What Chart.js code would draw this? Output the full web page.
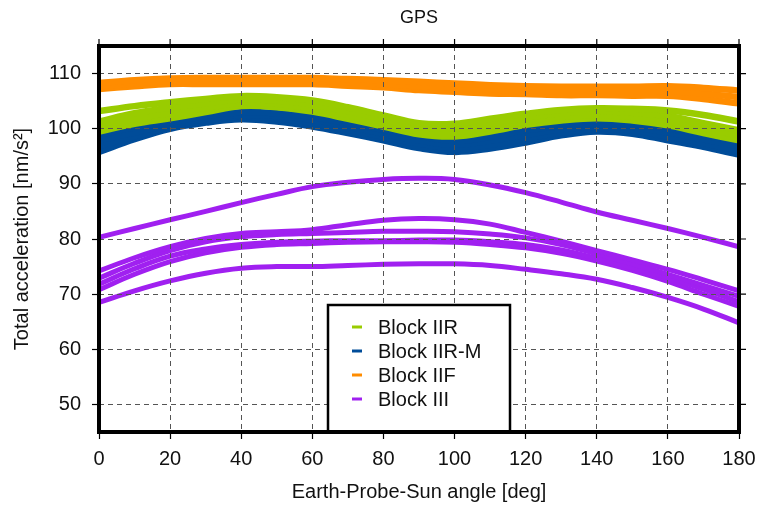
<!DOCTYPE html>
<html>
<head>
<meta charset="utf-8">
<script src="https://cdn.jsdelivr.net/npm/chart.js@4"></script>
<style>
html,body{margin:0;padding:0;background:#fff}
#wrap{position:relative;width:759px;height:506px}
</style>
</head>
<body>
<div id="wrap"><canvas id="c" width="759" height="506"></canvas></div>
<script>
// Earth-Probe-Sun angle samples [deg]
const angles = [0,10,20,30,40,50,60,70,80,90,100,110,120,130,140,150,160,170,180];
const xTicks = [0,20,40,60,80,100,120,140,160,180];
const yTicks = [50,60,70,80,90,100,110];

const blockNames  = ['Block IIR','Block IIR-M','Block IIF','Block III'];
const blockColors = ['#99cc00','#004c99','#ff8c00','#a020f0'];

// total acceleration per satellite [nm/s^2]
const blockIIR = [
  [103.2,104.1,104.8,105.4,105.9,105.7,105.1,103.9,102.4,101.0,100.9,101.8,102.7,103.4,103.7,103.6,103.3,102.5,101.3],
  [101.3,102.8,103.8,104.6,105.3,105.1,104.4,103.2,101.7,100.3,100.1,101.0,102.0,102.8,103.1,102.9,102.3,101.0,99.7],
  [100.3,101.8,102.85,103.8,104.7,104.5,103.7,102.5,101.0,99.6,99.4,100.2,101.3,102.1,102.5,102.2,101.4,100.1,98.8],
  [99.5,100.9,101.9,103.0,104.1,103.9,103.1,101.8,100.4,99.0,98.6,99.5,100.7,101.5,101.9,101.5,100.6,99.2,97.9]
];
const blockIIRM = [
  [99.0,100.2,101.1,102.3,103.0,102.8,102.1,101.0,99.8,98.7,97.8,98.5,99.7,100.5,100.9,100.7,100.0,98.8,97.5],
  [97.9,99.3,100.7,101.8,102.5,102.3,101.6,100.4,99.1,97.9,97.1,97.8,98.9,99.9,100.4,100.2,99.3,98.1,96.8],
  [96.9,98.6,100.4,101.5,102.2,101.9,101.0,99.8,98.6,97.3,96.5,97.1,98.2,99.3,100.0,99.7,98.6,97.4,96.0],
  [95.8,98.1,100.0,101.1,101.7,101.3,100.4,99.2,97.9,96.5,95.8,96.4,97.5,98.8,99.5,99.1,97.9,96.7,95.3]
];
const blockIIF = [
  [108.3,108.8,109.1,109.2,109.2,109.2,109.2,109.0,108.8,108.5,108.2,107.9,107.7,107.6,107.6,107.6,107.7,107.4,106.9],
  [107.7,108.2,108.6,108.6,108.6,108.6,108.6,108.4,108.1,107.7,107.4,107.1,107.0,106.8,106.8,106.8,106.8,106.4,105.7],
  [107.2,107.7,108.1,108.1,108.1,108.1,108.1,107.8,107.5,107.0,106.7,106.4,106.3,106.1,106.1,106.0,106.0,105.4,104.6]
];
const blockIII = [
  [80.3,81.9,83.5,85.0,86.6,88.1,89.5,90.3,90.8,91.0,90.8,89.8,88.4,86.7,84.9,83.4,81.9,80.3,78.6],
  [74.2,76.6,78.6,80.1,81.0,81.3,81.7,82.6,83.4,83.7,83.5,82.7,81.2,79.6,77.9,76.2,74.5,72.6,70.6],
  [72.9,75.6,77.9,79.5,80.4,80.8,81.0,81.2,81.4,81.4,81.3,80.9,80.2,79.0,77.3,75.5,73.6,71.6,69.6],
  [71.8,74.6,76.9,78.2,79.0,79.4,79.6,79.7,79.7,79.8,79.8,79.5,79.0,78.0,76.5,74.8,73.0,70.9,68.6],
  [70.8,73.6,75.9,77.5,78.5,79.0,79.2,79.4,79.5,79.5,79.4,79.0,78.4,77.4,76.0,74.3,72.3,70.0,67.8],
  [68.5,70.6,72.4,73.8,74.7,75.0,75.0,75.2,75.4,75.5,75.5,75.2,74.5,73.7,72.7,71.2,69.4,67.3,64.8]
];

const FONT = '"Liberation Sans", Arial, Helvetica, sans-serif';

const blocks = [blockIIR, blockIIRM, blockIIF, blockIII];
const datasets = [];
blocks.forEach((sats, b) => {
  sats.forEach(vals => {
    datasets.push({
      label: blockNames[b],
      data: vals.map((v, i) => ({ x: angles[i], y: v })),
      borderColor: blockColors[b],
      borderWidth: b === 3 ? 5 : 6.5,
      pointRadius: 0,
      tension: 0.4,
      fill: false
    });
  });
});

// frame, mirrored ticks, title and legend box
const decor = {
  id: 'decor',
  afterDraw(chart) {
    const { ctx, chartArea: a, scales: { x, y } } = chart;
    ctx.save();
    ctx.fillStyle = '#111';
    ctx.font = '18px ' + FONT;
    ctx.textAlign = 'center';
    ctx.textBaseline = 'middle';
    ctx.fillText('GPS', (a.left + a.right) / 2, 18);

    // legend
    const lx = 328, ly = 305, lw = 182, lh = 127;
    ctx.fillStyle = '#fff';
    ctx.fillRect(lx, ly, lw, lh);
    ctx.strokeStyle = '#000';
    ctx.lineWidth = 2.5;
    ctx.strokeRect(lx, ly, lw, lh);
    ctx.font = '20px ' + FONT;
    ctx.textAlign = 'left';
    blockNames.forEach((name, i) => {
      const ry = 327 + i * 24;
      ctx.strokeStyle = blockColors[i];
      ctx.lineWidth = 3;
      ctx.beginPath();
      ctx.moveTo(352, ry);
      ctx.lineTo(362, ry);
      ctx.stroke();
      ctx.fillStyle = '#111';
      ctx.fillText(name, 378, ry + 1);
    });

    ctx.strokeStyle = '#000';
    ctx.lineWidth = 1.2;
    ctx.beginPath();
    xTicks.forEach(v => { const px = x.getPixelForValue(v); ctx.moveTo(px, a.top); ctx.lineTo(px, a.top - 7); });
    yTicks.forEach(v => { const py = y.getPixelForValue(v); ctx.moveTo(a.right, py); ctx.lineTo(a.right + 7, py); });
    ctx.stroke();
    ctx.lineWidth = 4;
    ctx.strokeRect(a.left, a.top, a.right - a.left, a.bottom - a.top);
    ctx.restore();
  }
};

const gridOpts = { color: '#555', lineWidth: 1, z: 1, drawTicks: true, tickLength: 7, tickColor: '#000', tickWidth: 1.2 };

new Chart(document.getElementById('c'), {
  type: 'line',
  data: { datasets },
  options: {
    responsive: false,
    animation: false,
    devicePixelRatio: 1,
    layout: { padding: { top: 46, right: 20, bottom: 0, left: 0 } },
    plugins: { legend: { display: false }, title: { display: false }, tooltip: { enabled: false } },
    scales: {
      x: {
        type: 'linear', min: 0, max: 180,
        afterBuildTicks: s => { s.ticks = xTicks.map(v => ({ value: v })); },
        afterFit: s => { s.height = 74; s.paddingLeft = 0; s.paddingRight = 0; },
        grid: gridOpts,
        border: { display: false, dash: [5, 4] },
        ticks: { color: '#111', font: { family: FONT, size: 20 }, padding: 8, maxRotation: 0 },
        title: { display: true, text: 'Earth-Probe-Sun angle [deg]', color: '#111', font: { family: FONT, size: 20 }, padding: 2 }
      },
      y: {
        type: 'linear', min: 45, max: 115,
        afterBuildTicks: s => { s.ticks = yTicks.map(v => ({ value: v })); },
        afterFit: s => { s.width = 99; s.paddingTop = 0; s.paddingBottom = 0; },
        grid: gridOpts,
        border: { display: false, dash: [5, 4] },
        ticks: { color: '#111', font: { family: FONT, size: 20 }, padding: 11 },
        title: { display: true, text: 'Total acceleration [nm/s²]', color: '#111', font: { family: FONT, size: 20 }, padding: 10 }
      }
    }
  },
  plugins: [decor]
});
</script>
</body>
</html>
